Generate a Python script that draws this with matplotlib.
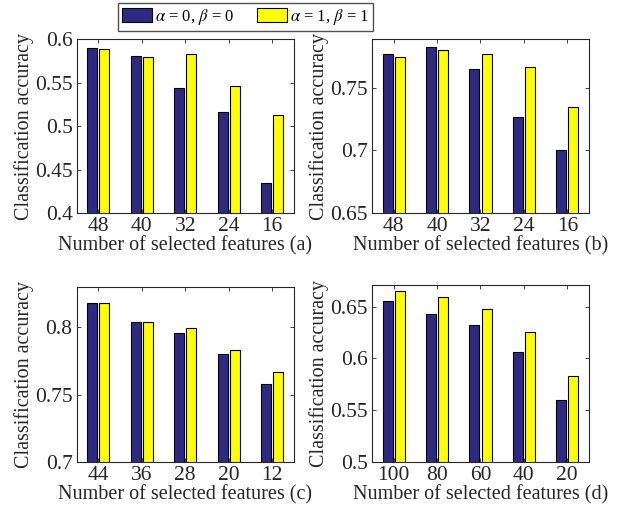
import numpy as np
import matplotlib
matplotlib.use("Agg")
import matplotlib.pyplot as plt
from matplotlib.ticker import FormatStrFormatter

plt.rcParams["font.family"] = "Liberation Serif"
plt.rcParams["mathtext.fontset"] = "stix"

# feature counts (x tick labels) per panel
feat_a = [48, 40, 32, 24, 16]
feat_b = [48, 40, 32, 24, 16]
feat_c = [44, 36, 28, 20, 12]
feat_d = [100, 80, 60, 40, 20]

# accuracy, alpha=0 beta=0
acc0_a = [0.590, 0.581, 0.544, 0.516, 0.434]
acc0_b = [0.777, 0.783, 0.765, 0.727, 0.700]
acc0_c = [0.818, 0.804, 0.796, 0.780, 0.758]
acc0_d = [0.656, 0.643, 0.632, 0.606, 0.560]

# accuracy, alpha=1 beta=1
acc1_a = [0.588, 0.579, 0.583, 0.546, 0.513]
acc1_b = [0.775, 0.780, 0.777, 0.767, 0.735]
acc1_c = [0.818, 0.804, 0.799, 0.783, 0.767]
acc1_d = [0.665, 0.659, 0.648, 0.626, 0.583]

panels = [
    (feat_a, acc0_a, acc1_a, (0.4, 0.6), [0.4, 0.45, 0.5, 0.55, 0.6], "(a)"),
    (feat_b, acc0_b, acc1_b, (0.65, 0.789), [0.65, 0.7, 0.75], "(b)"),
    (feat_c, acc0_c, acc1_c, (0.7, 0.83), [0.7, 0.75, 0.8], "(c)"),
    (feat_d, acc0_d, acc1_d, (0.5, 0.671), [0.5, 0.55, 0.6, 0.65], "(d)"),
]

# axes rectangles [left, bottom, width, height]
rects = [
    [0.1227, 0.5872, 0.3472, 0.3372],
    [0.5952, 0.5872, 0.3472, 0.3372],
    [0.1227, 0.1047, 0.3472, 0.3397],
    [0.5952, 0.1047, 0.3472, 0.3430],
]

blue = "#2E2A84"
yellow = "#FFFF00"
w = 0.23

fig = plt.figure(figsize=(6.25, 5.16), dpi=100)

for (feats, a0, a1, ylim, yt, tag), r in zip(panels, rects):
    ax = fig.add_axes(r)
    x = np.arange(1, len(feats) + 1)
    b0 = ax.bar(x - 0.14, a0, w, color=blue, edgecolor="black", linewidth=0.8,
                label=r"$\alpha$ = 0, $\beta$ = 0")
    b1 = ax.bar(x + 0.14, a1, w, color=yellow, edgecolor="black", linewidth=0.8,
                label=r"$\alpha$ = 1, $\beta$ = 1")
    ax.set_xlim(0.5, 5.5)
    ax.set_ylim(*ylim)
    ax.set_xticks(x)
    ax.set_xticklabels([str(f) for f in feats])
    ax.set_yticks(yt)
    ax.yaxis.set_major_formatter(FormatStrFormatter("%g"))
    ax.tick_params(direction="in", top=True, right=True, length=3,
                   labelsize=15.5, colors="#262626", width=0.6, pad=3)
    for s in ax.spines.values():
        s.set_linewidth(0.8)
        s.set_color("#262626")
    ax.set_xlabel("Number of selected features " + tag, fontsize=14.5,
                  color="#262626", labelpad=0)
    ax.set_ylabel("Classification accuracy", fontsize=14.5, color="#262626",
                  labelpad=1)

fig.legend(handles=[b0, b1], loc="center", ncol=2,
           bbox_to_anchor=(0.393, 0.967), fontsize=12, frameon=True,
           fancybox=False, edgecolor="#262626", handlelength=1.8,
           handleheight=0.9, columnspacing=1.4, borderpad=0.25,
           handletextpad=0.15, borderaxespad=0.0)

fig.savefig("out.png", dpi=100)
